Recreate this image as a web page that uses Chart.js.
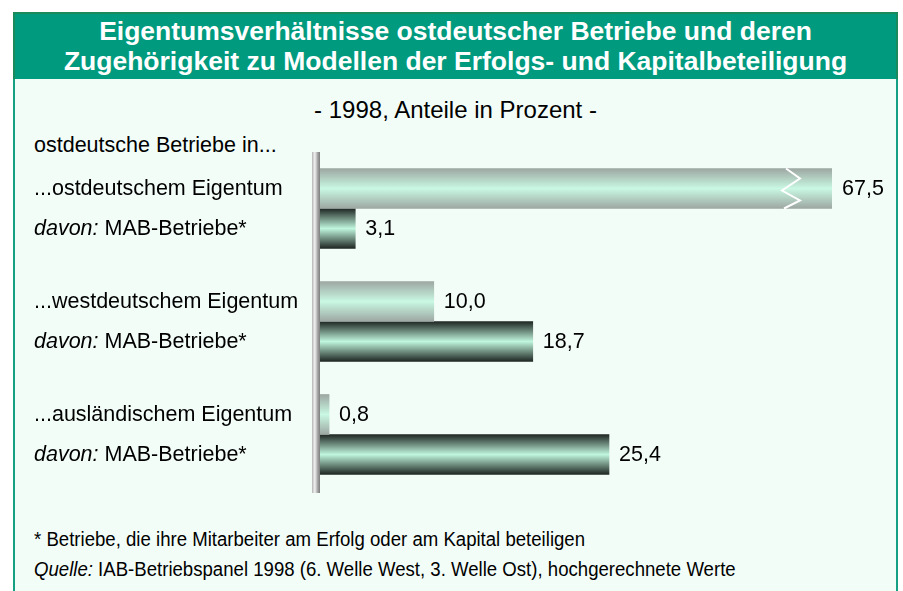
<!DOCTYPE html>
<html>
<head>
<meta charset="utf-8">
<script src="https://cdn.jsdelivr.net/npm/chart.js@4"></script>
<style>
  body { margin: 0; background: #fff; width: 903px; height: 591px; overflow: hidden; position: relative; font-family: "Liberation Sans", Arial, sans-serif; }
  #head { position: absolute; left: 13px; top: 12px; width: 881px; height: 63px; background: #009a7e; border: 2px solid #1a8a5c; color: #fff;
          font-weight: bold; font-size: 26.5px; line-height: 30px; text-align: center; padding-top: 2px; }
  #panel { position: absolute; left: 13px; top: 79px; width: 881px; height: 520px; background: #f3fdf8; border-left: 2px solid #15a083; border-right: 2px solid #15a083; }
  #sub { position: absolute; left: 13px; width: 885px; top: 96px; text-align: center; font-size: 24px; color: #000; }
  #intro { position: absolute; left: 34px; top: 133px; font-size: 21.5px; color: #000; }
  .note { position: absolute; left: 34px; font-family: "Liberation Sans Narrow", "Arial Narrow", "Liberation Sans", sans-serif; font-size: 20px; color: #000;
          white-space: nowrap; transform: scaleX(0.93); transform-origin: left center; }
  #chart { position: absolute; left: 0; top: 0; }
</style>
</head>
<body>
<div id="head">Eigentumsverhältnisse ostdeutscher Betriebe und deren<br>Zugehörigkeit zu Modellen der Erfolgs- und Kapitalbeteiligung</div>
<div id="panel"></div>
<div id="sub">- 1998, Anteile in Prozent -</div>
<div id="intro">ostdeutsche Betriebe in...</div>
<div class="note" style="top:528px">* Betriebe, die ihre Mitarbeiter am Erfolg oder am Kapital beteiligen</div>
<div class="note" style="top:558px"><i>Quelle:</i> IAB-Betriebspanel 1998 (6. Welle West, 3. Welle Ost), hochgerechnete Werte</div>
<canvas id="chart" width="903" height="591"></canvas>
<script>
// data
const owners = ['...ostdeutschem Eigentum', '...westdeutschem Eigentum', '...ausländischem Eigentum'];
const ownerShare = [67.5, 10.0, 0.8];
const mabShare = [3.1, 18.7, 25.4];
const subLabelItalic = 'davon:';
const subLabel = ' MAB-Betriebe*';

const BAR = 40;
const FONT = '21.5px "Liberation Sans", Arial, sans-serif';

function barGradient(c, edge, mid) {
    const chart = c.chart;
    const ys = chart.scales.y;
    if (!ys || c.dataIndex === undefined) return mid;
    const center = ys.getPixelForValue(c.dataIndex);
    if (!isFinite(center)) return mid;
    const top = center - BAR + c.datasetIndex * BAR;
    const g = chart.ctx.createLinearGradient(0, top, 0, top + BAR);
    g.addColorStop(0, edge);
    g.addColorStop(0.5, mid);
    g.addColorStop(1, edge);
    return g;
}

const decorations = {
    id: 'decorations',
    beforeDatasetsDraw(chart) {
        // vertical axis post
        const ctx = chart.ctx;
        const a = chart.chartArea;
        const g = ctx.createLinearGradient(a.left - 8, 0, a.left, 0);
        g.addColorStop(0, '#b4b4b4');
        g.addColorStop(0.35, '#f2f2f2');
        g.addColorStop(0.7, '#a6a6a6');
        g.addColorStop(1, '#7c7c7c');
        ctx.save();
        ctx.fillStyle = g;
        ctx.fillRect(a.left - 8, a.top, 8, a.bottom - a.top + 2);
        ctx.restore();
    },
    afterDatasetsDraw(chart) {
        const ctx = chart.ctx;
        const a = chart.chartArea;
        ctx.save();
        ctx.fillStyle = '#000';
        ctx.textBaseline = 'middle';
        ctx.textAlign = 'left';
        chart.data.datasets.forEach((ds, di) => {
            const meta = chart.getDatasetMeta(di);
            meta.data.forEach((bar, i) => {
                const v = ds.data[i];
                const end = Math.min(bar.x, a.right);
                // value label
                ctx.font = FONT;
                ctx.fillText(v.toFixed(1).replace('.', ','), end + 10, bar.y + 1);
                // row label on the left
                if (di === 0) {
                    ctx.fillText(owners[i], 34, bar.y + 1);
                } else {
                    ctx.font = 'italic ' + FONT;
                    ctx.fillText(subLabelItalic, 34, bar.y + 1);
                    const w = ctx.measureText(subLabelItalic).width;
                    ctx.font = FONT;
                    ctx.fillText(subLabel, 34 + w, bar.y + 1);
                }
                // break mark on bars running past the scale
                if (bar.x > a.right) {
                    const x = a.right - 38;
                    const t = bar.y - BAR / 2, h = BAR;
                    ctx.save();
                    ctx.strokeStyle = '#ffffff';
                    ctx.lineWidth = 2;
                    ctx.beginPath();
                    ctx.moveTo(x - 8, t);
                    ctx.lineTo(x + 6, t + h * 0.25);
                    ctx.lineTo(x - 12, t + h * 0.55);
                    ctx.lineTo(x + 6, t + h * 0.8);
                    ctx.lineTo(x - 10, t + h);
                    ctx.stroke();
                    ctx.restore();
                }
            });
        });
        ctx.restore();
    }
};

new Chart(document.getElementById('chart'), {
    type: 'bar',
    data: {
        labels: owners,
        datasets: [{
            label: 'Eigentum',
            data: ownerShare,
            backgroundColor: c => barGradient(c, '#9da7a2', '#c9f8e3'),
            borderWidth: 0,
            barThickness: BAR
        }, {
            label: 'MAB-Betriebe',
            data: mabShare,
            backgroundColor: c => barGradient(c, '#1f2623', '#c0f6dd'),
            borderWidth: 0,
            barThickness: BAR
        }]
    },
    plugins: [decorations],
    options: {
        indexAxis: 'y',
        responsive: false,
        animation: false,
        layout: { padding: { left: 320, right: 71, top: 152, bottom: 100 } },
        scales: {
            x: { display: false, min: 0, max: 45 },
            y: { display: false }
        },
        plugins: {
            legend: { display: false },
            tooltip: { enabled: false },
            title: { display: false }
        }
    }
});
</script>
</body>
</html>
